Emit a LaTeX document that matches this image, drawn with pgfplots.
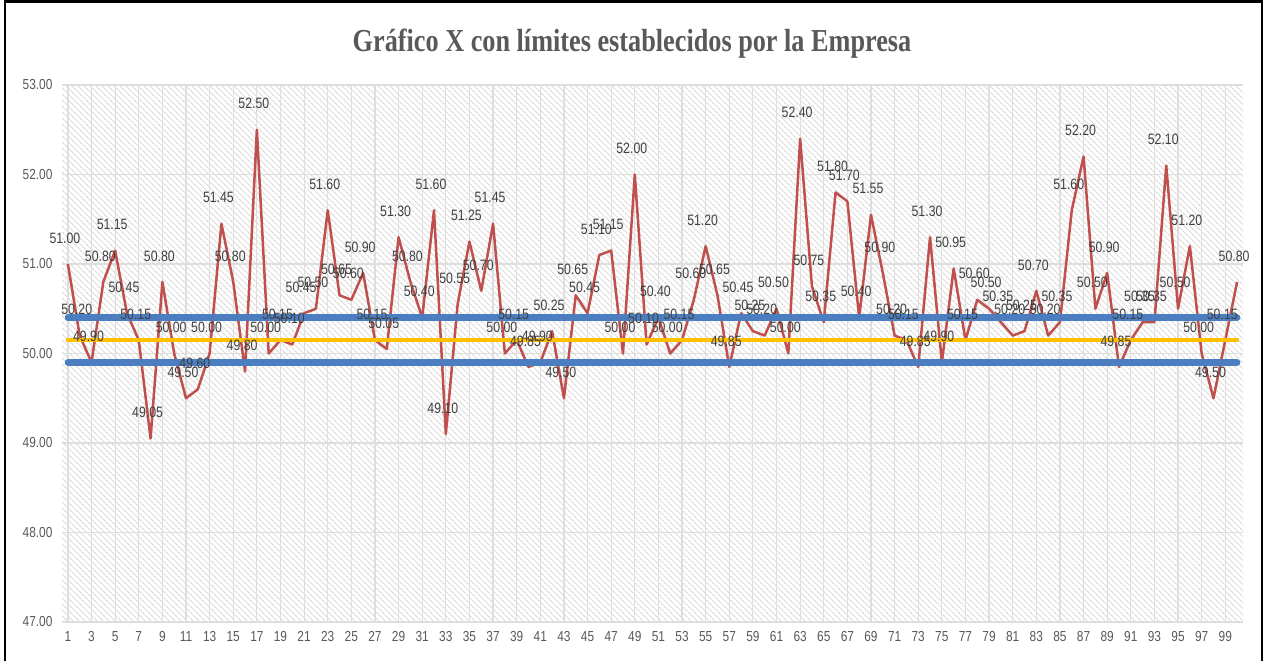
\documentclass[border=0pt]{standalone}
\usepackage{pgfplots}
\pgfplotsset{compat=1.18}
\usepackage{pgfplotstable}
\usepackage{fontspec}
\setmainfont{Liberation Sans}
\newfontfamily\narrowfont{Liberation Sans}[FakeStretch=0.82]
\newfontfamily\titlefont{Liberation Serif}[FakeStretch=0.82]
\usetikzlibrary{patterns.meta}
\definecolor{redline}{RGB}{192,80,77}
\definecolor{blueline}{RGB}{74,126,193}
\definecolor{yellowline}{RGB}{255,192,0}
\definecolor{labelgray}{RGB}{64,64,64}
\definecolor{titlegray}{RGB}{89,89,89}
\definecolor{gridgray}{RGB}{222,222,222}
\pgfplotsset{/pgf/number format/assume math mode=true}

\pgfplotstableread{
x y
1 51.00
2 50.20
3 49.90
4 50.80
5 51.15
6 50.45
7 50.15
8 49.05
9 50.80
10 50.00
11 49.50
12 49.60
13 50.00
14 51.45
15 50.80
16 49.80
17 52.50
18 50.00
19 50.15
20 50.10
21 50.45
22 50.50
23 51.60
24 50.65
25 50.60
26 50.90
27 50.15
28 50.05
29 51.30
30 50.80
31 50.40
32 51.60
33 49.10
34 50.55
35 51.25
36 50.70
37 51.45
38 50.00
39 50.15
40 49.85
41 49.90
42 50.25
43 49.50
44 50.65
45 50.45
46 51.10
47 51.15
48 50.00
49 52.00
50 50.10
51 50.40
52 50.00
53 50.15
54 50.60
55 51.20
56 50.65
57 49.85
58 50.45
59 50.25
60 50.20
61 50.50
62 50.00
63 52.40
64 50.75
65 50.35
66 51.80
67 51.70
68 50.40
69 51.55
70 50.90
71 50.20
72 50.15
73 49.85
74 51.30
75 49.90
76 50.95
77 50.15
78 50.60
79 50.50
80 50.35
81 50.20
82 50.25
83 50.70
84 50.20
85 50.35
86 51.60
87 52.20
88 50.50
89 50.90
90 49.85
91 50.15
92 50.35
93 50.35
94 52.10
95 50.50
96 51.20
97 50.00
98 49.50
99 50.15
100 50.80
}\datatable

\pgfplotstableread{
x y
1 50.40
100 50.40
}\ucl
\pgfplotstableread{
x y
1 50.15
100 50.15
}\cl
\pgfplotstableread{
x y
1 49.90
100 49.90
}\lcl

\begin{document}
\begin{tikzpicture}[x=1pt,y=1pt]
\path[use as bounding box] (0,0) rectangle (1266,661);
\fill[white] (0,0) rectangle (1266,661);
\draw[black, line width=2.2pt] (5,-5) rectangle (1262,659.5);
\node[font=\titlefont\bfseries\fontsize{32}{32}\selectfont, text=titlegray] at (632,617) {Gráfico X con límites establecidos por la Empresa};
\begin{axis}[
  at={(62pt,39pt)}, anchor=south west,
  scale only axis, width=1181pt, height=537pt,
  xmin=0.5, xmax=100.5, ymin=47, ymax=53,
  ytick={47,48,...,53}, xtick={1,3,...,99},
  axis background/.style={pattern={Lines[angle=-45,distance=4pt,line width=1.2pt]}, pattern color=gray!30},
  axis line style={draw=none},
  major tick length=0pt,
  grid=major,
  major grid style={gridgray, line width=1.2pt},
  yticklabel style={font=\narrowfont\fontsize{14.5}{14.5}\selectfont, text=titlegray, xshift=-6pt,
    /pgf/number format/.cd, fixed, fixed zerofill, precision=2},
  xticklabel style={font=\narrowfont\fontsize{14.5}{14.5}\selectfont, text=titlegray, yshift=-6pt},
  clip=false,
]
\addplot[redline, line width=2.5pt, line join=round, mark=none] table {\datatable};
\addplot[blueline, line width=6.5pt, line cap=round, mark=none] table {\ucl};
\addplot[blueline, line width=6.5pt, line cap=round, mark=none] table {\lcl};
\addplot[yellowline, line width=4.5pt, line cap=round, mark=none] table {\cl};
\addplot[draw=none, mark=none, nodes near coords,
  every node near coord/.append style={font=\narrowfont\fontsize{15}{15}\selectfont, text=labelgray, anchor=center, yshift=26pt, xshift=-3pt, inner sep=0pt,
    /pgf/number format/.cd, fixed, fixed zerofill, precision=2}
] table {\datatable};
\end{axis}
\end{tikzpicture}
\end{document}
